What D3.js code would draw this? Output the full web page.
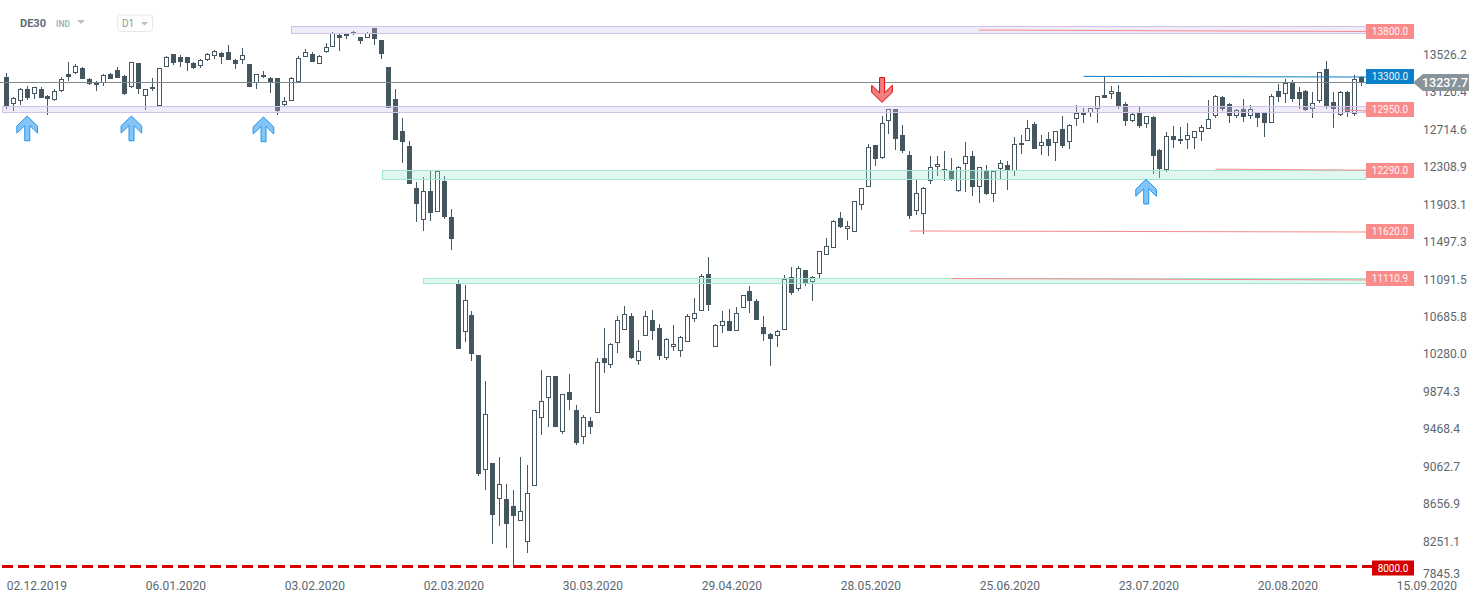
<!DOCTYPE html>
<html>
<head>
<meta charset="utf-8">
<script src="https://cdn.jsdelivr.net/npm/d3@7/dist/d3.min.js"></script>
<style>
html,body{margin:0;padding:0;background:#fff;overflow:hidden}
svg{display:block;font-family:Roboto,sans-serif}
</style>
</head>
<body>
<svg id="chart" width="1482" height="604"></svg>
<script>
const opens=[13293,13004,13029,13159,13105,13163,13087,13040,13138,13322,
13340,13387,13268,13242,13228,13325,13365,13304,13188,13441,
13091,13163,12979,13405,13538,13506,13506,13441,13416,13473,
13524,13549,13564,13477,13481,13434,13231,13289,13278,13282,
12986,13029,13242,13506,13542,13430,13560,13621,13744,13733,
13755,13723,13712,13824,13690,13401,13055,12708,12545,12090,
11747,12058,11834,12166,11776,11050,10527,10715,10281,9039,
9111,8725,8721,8645,8486,8259,8865,9602,9819,10054,
9450,9880,9685,9396,9566,9656,10249,10176,10415,10555,
10704,10220,10490,10657,10571,10252,10371,10328,10425,10675,
10761,11159,10371,10599,10650,10545,10794,10975,10866,10585,
10509,10490,10555,11123,10996,11202,11075,11162,11361,11437,
11762,11649,11617,11903,12104,12556,12419,12819,12946,12665,
12448,11844,11812,12169,12321,12271,12275,12061,12354,12434,
12104,12275,12029,12300,12340,12271,12553,12596,12781,12542,
12618,12575,12726,12585,12835,12881,12900,12949,13098,13105,
13127,12997,12819,12903,12787,12860,12502,12289,12650,12596,
12607,12629,12694,12726,12867,13073,12997,12867,12943,12867,
12900,12903,12791,13141,13105,13228,13130,13141,12946,13030,
13380,13022,12881,13130,12889,13290];
const highs=[13340,13080,13170,13195,13188,13181,13098,13159,13296,13455,
13434,13398,13278,13250,13325,13333,13405,13311,13452,13448,
13166,13278,13394,13520,13538,13528,13510,13455,13484,13549,
13589,13564,13640,13491,13607,13434,13329,13361,13296,13282,
13073,13289,13520,13593,13567,13531,13658,13777,13770,13773,
13795,13730,13784,13824,13697,13401,13163,12849,12600,12155,
12210,12275,12275,12220,11863,11094,11040,10758,10281,10000,
9111,9176,8884,8819,9176,9090,9682,10119,10054,10054,
9859,10075,9740,9631,9610,10249,10574,10411,10704,10812,
10733,10444,10758,10769,10617,10466,10606,10487,10725,10899,
11159,11343,10617,10758,10780,10801,10928,11029,10888,10704,
10520,10552,11148,11235,11245,11202,11137,11408,11545,11744,
11830,11733,11946,12087,12567,12556,12870,12946,12946,12773,
12491,12188,12101,12437,12437,12491,12415,12329,12589,12491,
12318,12340,12275,12394,12383,12643,12665,12827,12805,12665,
12697,12705,12870,12784,12990,12957,12954,13084,13296,13195,
13206,13022,12903,12968,12867,12870,12513,12697,12762,12751,
12795,12705,12773,13044,13098,13087,13011,12946,13055,12990,
12903,12903,13109,13217,13271,13260,13184,13152,13130,13350,
13466,13130,13141,13141,13315,13304];
const lows=[12950,12928,12993,13044,13051,13069,12881,13036,13130,13253,
13325,13275,13210,13145,13195,13271,13282,13098,13177,13105,
12935,13145,12979,13405,13419,13405,13358,13383,13387,13470,
13488,13437,13481,13383,13434,13188,13166,13282,13123,12881,
12979,13029,13224,13506,13455,13430,13556,13621,13578,13708,
13751,13654,13712,13643,13491,12960,12611,12364,12134,11722,
11625,11733,11834,11755,11419,10346,10425,10220,8970,8819,
8234,8429,8190,7977,8486,8136,8865,9415,9501,9501,
9425,9685,9306,9317,9425,9656,10086,10140,10303,10555,
10238,10173,10490,10444,10227,10227,10325,10260,10425,10639,
10761,10758,10371,10520,10541,10545,10794,10736,10660,10433,
10162,10368,10555,10931,10978,11029,10866,11115,11361,11437,
11657,11527,11617,11852,12104,12329,12408,12675,12502,12470,
11755,11798,11592,12134,12220,12166,12166,12050,12050,12004,
11928,12015,11939,12188,12069,12220,12459,12596,12513,12448,
12437,12383,12527,12513,12765,12795,12860,12795,13069,13055,
12946,12765,12805,12744,12744,12242,12199,12267,12524,12567,
12513,12513,12600,12726,12849,12925,12795,12849,12805,12838,
12751,12640,12791,13022,13011,13022,12946,12925,12849,13011,
12946,12740,12870,12860,12874,13195];
const closes=[12979,13062,13159,13069,13181,13069,13058,13145,13268,13296,
13408,13275,13221,13210,13311,13275,13282,13109,13452,13166,
13159,13188,13394,13513,13444,13455,13448,13390,13473,13542,
13578,13513,13481,13430,13528,13188,13322,13318,13239,12925,
13029,13286,13502,13567,13459,13524,13621,13773,13719,13755,
13777,13686,13773,13708,13546,12962,12611,12589,12134,11917,
12055,11820,12275,11779,11538,10346,10874,10295,8992,9639,
8548,8881,8450,8537,8588,8783,9682,9780,10050,9501,
9856,9794,9328,9606,9501,10202,10195,10397,10657,10722,
10249,10321,10701,10545,10270,10451,10397,10473,10701,10733,
11134,10823,10603,10646,10541,10733,10928,10866,10660,10509,
10455,10538,11101,10953,11220,11061,11130,11405,11459,11733,
11668,11675,11946,12087,12531,12405,12791,12943,12621,12491,
11787,12033,12090,12315,12347,12293,12174,12315,12434,12101,
12315,12022,12275,12358,12282,12564,12575,12737,12516,12585,
12549,12705,12549,12770,12900,12900,12954,13084,13069,13138,
12979,12816,12889,12765,12867,12437,12296,12650,12614,12618,
12661,12705,12748,12835,13084,12943,12867,12932,12856,12943,
12849,12791,13084,13076,13228,13055,13055,12935,13017,13350,
12979,12946,13127,12903,13268,13237.7];

const priceTicks=[13526.2,13120.4,12714.6,12308.9,11903.1,11497.3,11091.5,10685.8,10280.0,9874.3,9468.4,9062.7,8656.9,8251.1,7845.3];
const dateTickBars=[0,20,40,60,80,100,120,140,160,180,200];
const dateTickLabels=["02.12.2019","06.01.2020","03.02.2020","02.03.2020","30.03.2020","29.04.2020","28.05.2020","25.06.2020","23.07.2020","20.08.2020","15.09.2020"];

const zoneNames=["13800","12950","12290","11110.9"];
const zoneTops=[13848,12975,12282,11116];
const zoneBottoms=[13771,12912,12187,11060];
const zoneStartBars=[41,-0.6,54,60];
const zoneKinds=["sell","sell","buy","buy"];

const levelLabels=["13800.0","13300.0","12950.0","12290.0","11620.0","11110.9"];
const levelStartBars=[140,155,192,174,130,136];
const levelStartPrices=[13802,13300,12940,12295,11625,11110];
const levelEndPrices=[13786,13293,12924,12284,11614,11095];
const levelTagPrices=[13790,13300,12945,12290,11620,11110.9];
const levelKinds=["red","blue","red","red","red","red"];

const upArrowBars=[3,18,37,164];
const upArrowPrices=[12870,12870,12860,12185];
const downArrowBars=[126];
const downArrowPrices=[13019];
const supportLevel=8000;
const lastPrice=13237.7;

const svg=d3.select("#chart");
const x=d3.scaleLinear().domain([0,200]).range([6.3,1396.3]);
const y=d3.scaleLinear().domain([13526.2,7845.3]).range([55.5,579.9]);
const plotRight=1366;

// candles
const px=i=>Math.floor(x(i));
const candles=svg.append("g");
opens.forEach((o,i)=>{
  const c=closes[i],cx=px(i),up=c>o;
  const col="#44565f";
  candles.append("line").attr("x1",cx+.5).attr("x2",cx+.5)
    .attr("y1",Math.round(y(highs[i]))).attr("y2",Math.round(y(lows[i])))
    .attr("stroke",col).attr("stroke-width",1);
  const t=Math.round(y(Math.max(o,c))),b=Math.round(y(Math.min(o,c)));
  if(up){
    candles.append("rect").attr("x",cx-1.5).attr("width",4)
      .attr("y",t+.5).attr("height",Math.max(b-t-1,1))
      .attr("fill","#fff").attr("stroke",col).attr("stroke-width",1);
  }else{
    candles.append("rect").attr("x",cx-2).attr("width",5)
      .attr("y",t).attr("height",Math.max(b-t,1)).attr("fill",col);
  }
});

// zones above the candles
zoneNames.forEach((n,i)=>{
  const sell=zoneKinds[i]==="sell";
  const l=Math.round(x(zoneStartBars[i]))+.5;
  const t=Math.round(y(zoneTops[i]))+.5,b=Math.round(y(zoneBottoms[i]))+.5;
  svg.append("rect").attr("x",l).attr("y",t).attr("width",plotRight-l).attr("height",b-t)
    .attr("fill",sell?"rgba(202,188,235,.3)":"rgba(151,228,202,.3)")
    .attr("stroke",sell?"#cfc3ea":"#a0e9cf").attr("stroke-width",1);
});

// last price line
svg.append("line").attr("x1",0).attr("x2",plotRight)
  .attr("y1",Math.round(y(lastPrice))+.5).attr("y2",Math.round(y(lastPrice))+.5)
  .attr("stroke","#7f8c90").attr("stroke-width",1);

// sloped level lines
levelLabels.forEach((n,i)=>{
  const blue=levelKinds[i]==="blue";
  svg.append("line").attr("x1",x(levelStartBars[i])).attr("x2",plotRight)
    .attr("y1",y(levelStartPrices[i])).attr("y2",y(levelEndPrices[i]))
    .attr("stroke",blue?"#0b7fc7":"#f78a8a").attr("stroke-width",1);
});

// 8000 support
svg.append("line").attr("x1",2).attr("x2",1372)
  .attr("y1",Math.round(y(supportLevel))+.5).attr("y2",Math.round(y(supportLevel))+.5)
  .attr("stroke","#d40000").attr("stroke-width",3).attr("stroke-dasharray","11 5");

// axes
const yAxis=d3.axisRight(y).tickValues(priceTicks).tickSize(0).tickPadding(0).tickFormat(d3.format(".1f"));
const yG=svg.append("g").attr("transform","translate(1423,-0.5)").call(yAxis);
yG.select(".domain").remove();
yG.selectAll(".tick").attr("transform",d=>`translate(0,${Math.min(y(d),574.5)})`);
yG.selectAll("text").attr("font-family","Roboto,sans-serif").attr("font-size",12).attr("fill","#5c6770");

const xAxis=d3.axisBottom(x).tickValues(dateTickBars).tickSize(0).tickPadding(0)
  .tickFormat((d,i)=>dateTickLabels[i]);
const xG=svg.append("g").attr("transform","translate(0,581)").call(xAxis);
xG.select(".domain").remove();
xG.selectAll("text").attr("font-family","Roboto,sans-serif").attr("font-size",12).attr("fill","#5c6770")
  .attr("text-anchor","start").attr("dy","0.71em");

// arrows
const arrowShape=[[0,0],[10.3,10],[10.3,17],[2.6,9.5],[2.6,24.7],[-2.4,24.7],[-2.4,9.5],[-10.3,17],[-10.3,10]];
const arrowLine=d3.line();
upArrowBars.forEach((b,i)=>{
  svg.append("path").attr("transform",`translate(${x(b)},${y(upArrowPrices[i])})`)
    .attr("d",arrowLine(arrowShape)+"Z").attr("fill","#85c4f7").attr("stroke","#1f95ee").attr("stroke-width",1);
});
downArrowBars.forEach((b,i)=>{
  svg.append("path").attr("transform",`translate(${x(b)},${y(downArrowPrices[i])}) scale(1,-1)`)
    .attr("d",arrowLine(arrowShape)+"Z").attr("fill","#f08080").attr("stroke","#e00000").attr("stroke-width",1);
});

// level tags
levelLabels.forEach((n,i)=>{
  const blue=levelKinds[i]==="blue";
  const cy=Math.round(y(levelTagPrices[i]))+.5;
  svg.append("rect").attr("x",1366).attr("y",cy-7.5).attr("width",48).attr("height",15)
    .attr("fill",blue?"#0b7fc7":"#f98b8b");
  svg.append("text").attr("x",1390).attr("y",cy+3.6).attr("text-anchor","middle")
    .attr("font-size",10).attr("fill","#fff").attr("opacity",.92).text(n);
});
const sy=Math.round(y(supportLevel))+1.5;
svg.append("rect").attr("x",1372).attr("y",sy-7).attr("width",42).attr("height",15).attr("fill","#d40000");
svg.append("text").attr("x",1393).attr("y",sy+4).attr("text-anchor","middle")
  .attr("font-size",10).attr("fill","#fff").text("8000.0");

// last price flag
const ly=Math.round(y(lastPrice))+.5;
svg.append("path").attr("d",`M1413,${ly}L1423,${ly-8.5}H1469V${ly+8.5}H1423Z`).attr("fill","#88939a");
svg.append("text").attr("x",1422).attr("y",ly+4.5).attr("font-size",12.5).attr("font-weight",500)
  .attr("fill","#fff").text(d3.format(".1f")(lastPrice));

// header
svg.append("text").attr("x",20).attr("y",27).attr("font-size",11).attr("font-weight",700).attr("fill","#5d6b75").text("DE30");
svg.append("text").attr("x",56).attr("y",27).attr("font-size",8.5).attr("font-weight",700).attr("fill","#a8b3bc").text("IND");
svg.append("path").attr("d","M77,20H85L81,24Z").attr("fill","#b8c0c6");
svg.append("rect").attr("x",117.5).attr("y",15).attr("width",35).attr("height",16.5).attr("rx",3)
  .attr("fill","#fff").attr("stroke","#e6e8ea");
svg.append("text").attr("x",122).attr("y",27).attr("font-size",10).attr("fill","#8b96a0").text("D1");
svg.append("path").attr("d","M141,22H148L144.5,25.5Z").attr("fill","#b8c0c6");
</script>
</body>
</html>
